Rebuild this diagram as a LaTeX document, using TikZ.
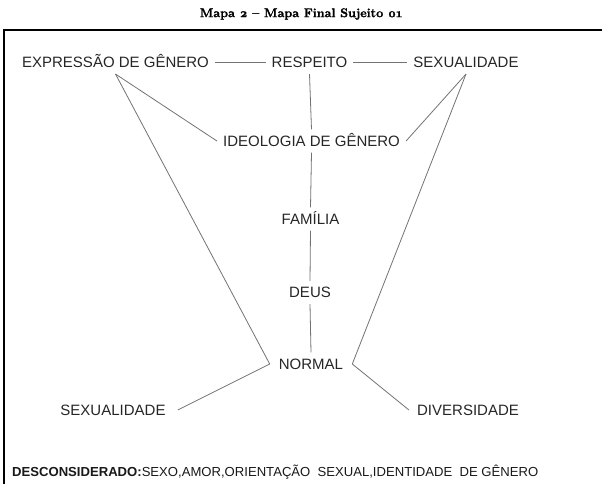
\documentclass[tikz,border=0pt]{standalone}
\usepackage{fontspec}
\setmainfont{Liberation Sans}
\newfontfamily\titlefont{Latin Modern Roman}[Numbers=OldStyle, BoldFeatures={FakeBold=1.6}]
\begin{document}
\begin{tikzpicture}[x=1pt,y=-1pt,
  lbl/.style={font=\fontsize{15}{15}\selectfont, text=black!85, inner sep=6pt, text height=10.7pt, text depth=0pt},
  lblwide/.style={lbl, inner xsep=9pt},
  link/.style={draw=black!55, line width=0.8pt}]
\useasboundingbox (0,0) rectangle (602,483);
\clip (0,0) rectangle (602,483);
\fill[white] (0,0) rectangle (602,483);
% frame
\draw[line width=1.3pt] (4,500) -- (4,30) -- (620,30);
% title
\node (title) at (301,14) {\titlefont\bfseries\fontsize{12.6}{12.6}\selectfont Mapa 2 – Mapa Final Sujeito 01};
% nodes
\node[lbl] (expr) at (115.5,62.5) {EXPRESSÃO DE GÊNERO};
\node[lbl] (resp) at (309.5,62.5) {RESPEITO};
\node[lbl] (sexa) at (466,62.5) {SEXUALIDADE};
\node[lbl] (ideo) at (311.5,141) {IDEOLOGIA DE GÊNERO};
\node[lbl] (fam) at (310.5,219) {FAMÍLIA};
\node[lbl] (deus) at (310,292.5) {DEUS};
\node[lblwide] (norm) at (311,364) {NORMAL};
\node[lbl, inner xsep=12pt] (sexb) at (113,410) {SEXUALIDADE};
\node[lbl, inner xsep=8pt] (div) at (468,410) {DIVERSIDADE};
\node[anchor=west, inner sep=0pt, text=black!90, font=\fontsize{13.1}{13.1}\selectfont] (desc) at (12,472.5)
  {\textbf{DESCONSIDERADO:}SEXO,AMOR,ORIENTAÇÃO\ \ SEXUAL,IDENTIDADE\ \ DE GÊNERO};
% connectors
\draw[link] (expr.east) -- (resp.west);
\draw[link] (resp.east) -- (sexa.west);
\draw[link] (resp.south) -- (ideo.north);
\draw[link] (ideo.south) -- (fam.north);
\draw[link] (fam.south) -- (deus.north);
\draw[link] (deus.south) -- (norm.north);
\draw[link] (expr.south) -- (ideo.west);
\draw[link] (sexa.south) -- (ideo.east);
\draw[link] (expr.south) -- (norm.west);
\draw[link] (sexa.south) -- (norm.east);
\draw[link] (norm.west) -- (sexb.east);
\draw[link] (norm.east) -- (div.west);
\end{tikzpicture}
\end{document}
